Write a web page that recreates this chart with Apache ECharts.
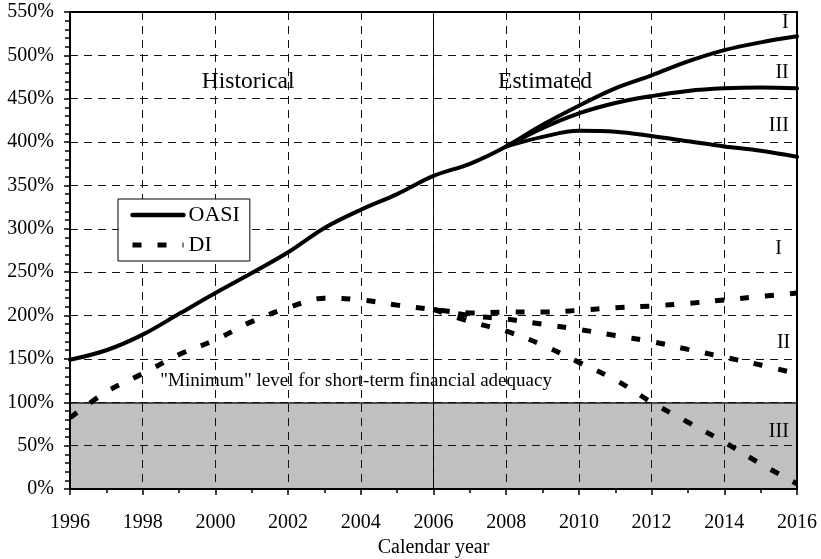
<!DOCTYPE html>
<html>
<head>
<meta charset="utf-8">
<script src="https://cdn.jsdelivr.net/npm/echarts@6/dist/echarts.min.js"></script>
<style>html,body{margin:0;padding:0;background:#fff}#c{width:821px;height:559px}</style>
</head>
<body>
<div id="c"></div>
<script>
// Years
const histOasiYears = [1996,1997,1998,1999,2000,2001,2002,2003,2004,2005,2006,2007,2008];
const projOasiYears = [2008,2009,2010,2011,2012,2013,2014,2015,2016];
const histDiYears = [1996,1997,1998,1999,2000,2001,2002,2003,2004,2005,2006];
const projDiYears = [2006,2007,2008,2009,2010,2011,2012,2013,2014,2015,2016];

// OASI trust fund ratio (%)
const oasiHist = [149,160,178,202,226,249,273,301,322,340,361,375,395];
const oasiI   = [395,420,442,462,477,493,506,515,522];
const oasiII  = [395,416,433,445,453,459,462,463,462];
const oasiIII = [395,406,413,412,407,401,395,390,383];

// DI trust fund ratio (%)
const diHist = [82,112,133,155,172,193,209,220,218,212,207];
const diI   = [207,203,204,204,206,209,211,214,218,222,226];
const diII  = [207,200,196,190,184,177,170,161,152,143,133];
const diIII = [207,193,182,166,146,126,100,77,54,29,6];

// Reference levels
const minimumBand = [0, 100];
const boundaryYear = 2006;

// Text annotations (data coordinates)
const annotations = [
  {text: 'Historical', x: 2000.9, y: 470, size: 23.5},
  {text: 'Estimated', x: 2009.07, y: 470, size: 23.5},
  {text: 'I', x: 2015.68, y: 538, size: 20},
  {text: 'II', x: 2015.59, y: 480, size: 20},
  {text: 'III', x: 2015.5, y: 419, size: 20},
  {text: 'I', x: 2015.49, y: 277, size: 20},
  {text: 'II', x: 2015.63, y: 168.5, size: 20},
  {text: 'III', x: 2015.5, y: 66.5, size: 20},
  {text: '"Minimum" level for short-term financial adequacy', x: 2003.87, y: 124, size: 19}
];

const FONT = '"Liberation Serif", "Times New Roman", serif';
const pair = (xs, ys) => xs.map((x, i) => [x, ys[i]]);

const solid = {color: '#000', width: 4, type: 'solid', cap: 'round'};
const dashed = {color: '#000', width: 5, type: [9, 16], cap: 'butt'};

function lineSeries(name, data, style) {
  return {
    name: name, type: 'line', data: data, smooth: 0.35,
    symbol: 'none', showSymbol: false, lineStyle: style,
    itemStyle: {color: '#000'}, zlevel: 1, z: 6, silent: true
  };
}

const series = [
  {
    name: 'band', type: 'line', data: [], zlevel: 0, z: 1, silent: true,
    markArea: {
      silent: true, zlevel: 0, z: 1,
      itemStyle: {color: '#c0c0c0'},
      data: [[{yAxis: minimumBand[0]}, {yAxis: minimumBand[1]}]]
    },
    markLine: {
      silent: true, symbol: 'none', animation: false, zlevel: 0, z: 2,
      label: {show: false},
      data: [
        {yAxis: minimumBand[1], lineStyle: {color: '#222', width: 1.5, type: 'solid'}},
        {xAxis: boundaryYear, lineStyle: {color: '#000', width: 1, type: 'solid'}}
      ]
    }
  },
  lineSeries('OASI', pair(histOasiYears, oasiHist).concat(pair(projOasiYears, oasiI).slice(1)), solid),
  lineSeries('OASI', pair(projOasiYears, oasiII), solid),
  lineSeries('OASI', pair(projOasiYears, oasiIII), solid),
  lineSeries('DI', pair(histDiYears, diHist).concat(pair(projDiYears, diI).slice(1)), dashed),
  lineSeries('DI', pair(projDiYears, diII), dashed),
  lineSeries('DI', pair(projDiYears, diIII), dashed),
  {
    name: 'notes', type: 'line', data: [], silent: true, zlevel: 1, z: 7,
    markPoint: {
      silent: true, symbol: 'circle', symbolSize: 0, animation: false, zlevel: 1, z: 7,
      data: annotations.map(a => ({
        coord: [a.x, a.y], name: a.text,
        label: {show: true, position: 'inside', formatter: '{b}', color: '#000',
                fontFamily: FONT, fontSize: a.size}
      }))
    }
  }
];

const chart = echarts.init(document.getElementById('c'), null, {renderer: 'canvas'});
chart.setOption({
  animation: false,
  backgroundColor: '#fff',
  grid: {left: 70, right: 24, top: 12, bottom: 70, outerBoundsMode: 'none', containLabel: false,
         show: true, borderColor: '#000', borderWidth: 2, backgroundColor: 'transparent', zlevel: 1, z: 5},
  legend: {
    data: [
      {name: 'OASI', lineStyle: {width: 4.5, type: 'solid', color: '#000'}},
      {name: 'DI', lineStyle: {width: 5, type: [9, 16], color: '#000'}}
    ],
    orient: 'vertical', left: 118, top: 199, zlevel: 1, z: 8,
    padding: [5, 10, 5, 12], itemGap: 8, itemWidth: 51, itemHeight: 14,
    borderColor: '#000', borderWidth: 1, backgroundColor: '#fff',
    itemStyle: {opacity: 0, borderWidth: 0},
    textStyle: {fontFamily: FONT, fontSize: 22, color: '#000'},
    selectedMode: false
  },
  xAxis: {
    type: 'value', min: 1996, max: 2016, interval: 2, zlevel: 1, z: 4,
    name: 'Calendar year', nameLocation: 'middle', nameGap: 49,
    nameTextStyle: {fontFamily: FONT, fontSize: 20, color: '#000'},
    axisLine: {show: true, lineStyle: {color: '#000', width: 2}},
    axisTick: {show: true, length: 6, lineStyle: {color: '#000', width: 1.5}},
    minorTick: {show: true, splitNumber: 2, length: 4, lineStyle: {color: '#000', width: 1.5}},
    axisLabel: {formatter: v => String(v), fontFamily: FONT, fontSize: 20, color: '#000', margin: 24},
    splitLine: {show: true, lineStyle: {color: '#111', width: 1, type: [8, 6]}}
  },
  yAxis: {
    type: 'value', min: 0, max: 550, interval: 50, zlevel: 1, z: 4,
    axisLine: {show: true, lineStyle: {color: '#000', width: 2}},
    axisTick: {show: true, length: 6, lineStyle: {color: '#000', width: 1.5}},
    minorTick: {show: true, splitNumber: 5, length: 5, lineStyle: {color: '#000', width: 1.5}},
    axisLabel: {formatter: '{value}%', fontFamily: FONT, fontSize: 20, color: '#000', margin: 16},
    splitLine: {show: true, lineStyle: {color: '#111', width: 1, type: [8, 6]}}
  },
  series: series
});
</script>
</body>
</html>
